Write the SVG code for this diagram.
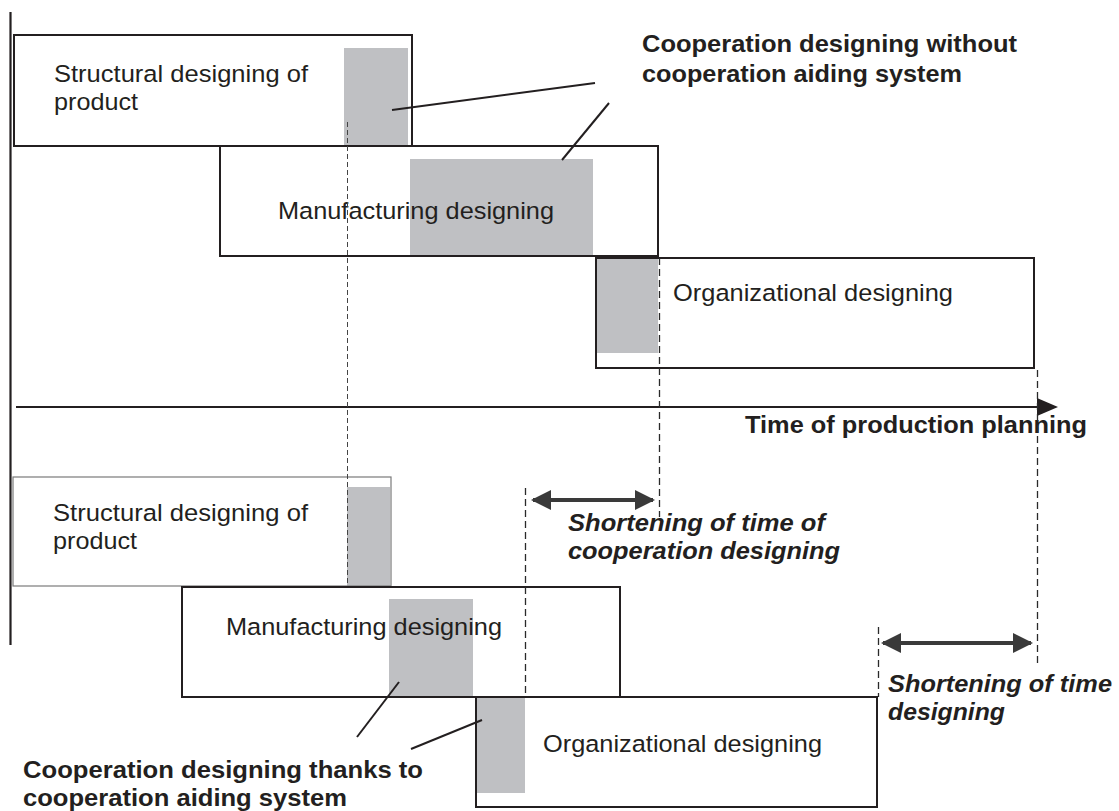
<svg xmlns="http://www.w3.org/2000/svg" width="1119" height="811" viewBox="0 0 1119 811">
<style>
.box{fill:none;stroke:#231f20;stroke-width:2}
.thin{fill:none;stroke:#7a7a7a;stroke-width:1.2}
.bg{fill:#fff}
.sh{fill:#bfc0c3}
.lbl{font-family:"Liberation Sans",Arial,sans-serif;font-size:24.5px;fill:#231f20}
.bold{font-family:"Liberation Sans",Arial,sans-serif;font-size:24.5px;font-weight:bold;fill:#231f20}
.it{font-family:"Liberation Sans",Arial,sans-serif;font-size:23.5px;font-weight:bold;font-style:italic;fill:#231f20}
.dash{stroke:#2a2a2a;stroke-width:1.3;stroke-dasharray:7 4;fill:none}
.dash2{stroke:#444;stroke-width:1;stroke-dasharray:5 3;fill:none}
.lead{stroke:#231f20;stroke-width:2;fill:none}
.axis{stroke:#231f20;stroke-width:2.2;fill:none}
.dbl{stroke:#3a3a3a;stroke-width:4;fill:none}
</style>
<defs>
<marker id="ah" viewBox="0 0 10 10" refX="9" refY="5" markerWidth="5" markerHeight="5" markerUnits="strokeWidth" orient="auto-start-reverse">
<path d="M0,0 L10,5 L0,10 z" fill="#3a3a3a"/>
</marker>
</defs>

<g id="axes">
<line class="axis" x1="10.5" y1="12" x2="10.5" y2="645"/>
<line class="axis" x1="16" y1="407" x2="1040" y2="407"/>
<polygon points="1037,398 1058,407 1037,416" fill="#231f20"/>
<text class="bold" x="745" y="433" textLength="342" lengthAdjust="spacingAndGlyphs">Time of production planning</text>
</g>

<g id="top-structural">
<rect class="bg" x="14" y="35" width="398" height="111"/>
<rect class="sh" x="344" y="48" width="64" height="97"/>
<rect class="box" x="14" y="35" width="398" height="111"/>
<text class="lbl" x="54" y="82" textLength="254" lengthAdjust="spacingAndGlyphs">Structural designing of</text>
<text class="lbl" x="54" y="110" textLength="84" lengthAdjust="spacingAndGlyphs">product</text>
</g>

<g id="top-manufacturing">
<rect class="bg" x="220" y="146" width="438" height="110"/>
<rect class="sh" x="410" y="159" width="183" height="96"/>
<rect class="box" x="220" y="146" width="438" height="110"/>
<text class="lbl" x="278" y="219" textLength="276" lengthAdjust="spacingAndGlyphs">Manufacturing designing</text>
</g>

<g id="top-organizational">
<rect class="bg" x="596" y="258" width="438" height="110"/>
<rect class="sh" x="596" y="258" width="62" height="95"/>
<rect class="box" x="596" y="258" width="438" height="110"/>
<text class="lbl" x="673" y="301" textLength="280" lengthAdjust="spacingAndGlyphs">Organizational designing</text>
</g>

<g id="top-note">
<text class="bold" x="642" y="52" textLength="375" lengthAdjust="spacingAndGlyphs">Cooperation designing without</text>
<text class="bold" x="642" y="82" textLength="320" lengthAdjust="spacingAndGlyphs">cooperation aiding system</text>
</g>

<g id="bottom-structural">
<rect class="bg" x="13" y="477" width="378" height="109"/>
<rect class="sh" x="347" y="487" width="43" height="99"/>
<rect class="thin" x="13" y="477" width="378" height="109"/>
<text class="lbl" x="53" y="521" textLength="255" lengthAdjust="spacingAndGlyphs">Structural designing of</text>
<text class="lbl" x="53" y="549" textLength="84" lengthAdjust="spacingAndGlyphs">product</text>
</g>

<g id="bottom-manufacturing">
<rect class="bg" x="182" y="587" width="438" height="110"/>
<rect class="sh" x="389" y="599" width="84" height="98"/>
<rect class="box" x="182" y="587" width="438" height="110"/>
<text class="lbl" x="226" y="635" textLength="276" lengthAdjust="spacingAndGlyphs">Manufacturing designing</text>
</g>

<g id="bottom-organizational">
<rect class="bg" x="476" y="697" width="401" height="110"/>
<rect class="sh" x="477" y="698" width="48" height="95"/>
<rect class="box" x="476" y="697" width="401" height="110"/>
<text class="lbl" x="543" y="752" textLength="279" lengthAdjust="spacingAndGlyphs">Organizational designing</text>
</g>

<g id="bottom-note">
<text class="bold" x="23" y="778" textLength="400" lengthAdjust="spacingAndGlyphs">Cooperation designing thanks to</text>
<text class="bold" x="23" y="806" textLength="324" lengthAdjust="spacingAndGlyphs">cooperation aiding system</text>
</g>

<g id="shortening-coop">
<text class="it" x="568" y="531" textLength="257" lengthAdjust="spacingAndGlyphs">Shortening of time of</text>
<text class="it" x="568" y="559" textLength="272" lengthAdjust="spacingAndGlyphs">cooperation designing</text>
</g>

<g id="shortening-time">
<text class="it" x="888" y="692" textLength="224" lengthAdjust="spacingAndGlyphs">Shortening of time</text>
<text class="it" x="888" y="720" textLength="117" lengthAdjust="spacingAndGlyphs">designing</text>
</g>

<g id="connectors">
<line class="dash2" x1="347.5" y1="122" x2="347.5" y2="586"/>
<line class="dash" x1="659.5" y1="258" x2="659.5" y2="517"/>
<line class="dash" x1="525.5" y1="488" x2="525.5" y2="697"/>
<line class="dash" x1="878.5" y1="627" x2="878.5" y2="697"/>
<line class="dash" x1="1037.5" y1="370" x2="1037.5" y2="663"/>
<line class="lead" x1="392" y1="110" x2="595" y2="83"/>
<line class="lead" x1="562" y1="160" x2="609" y2="103"/>
<line class="lead" x1="399" y1="682" x2="357" y2="737"/>
<line class="lead" x1="482" y1="720" x2="411" y2="749"/>
<line class="dbl" x1="533" y1="500" x2="653" y2="500" marker-start="url(#ah)" marker-end="url(#ah)"/>
<line class="dbl" x1="883" y1="643" x2="1031" y2="643" marker-start="url(#ah)" marker-end="url(#ah)"/>
</g>
</svg>
